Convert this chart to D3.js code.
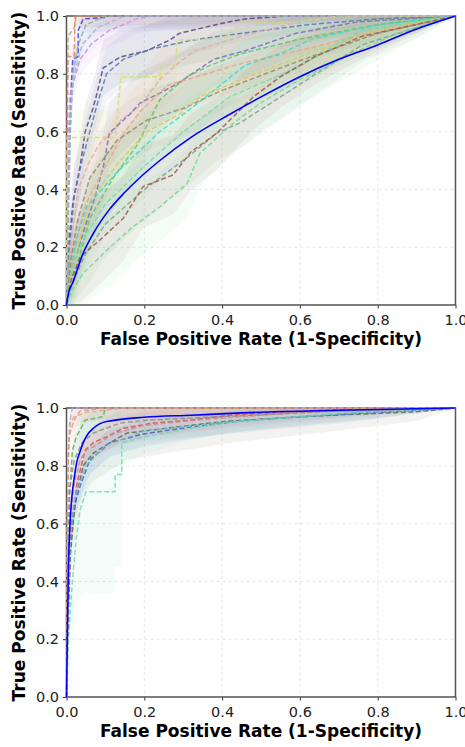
<!DOCTYPE html>
<meta charset="utf-8">
<style>
body { margin: 0; background: #fff; }
.tick text { font-family: "DejaVu Sans", sans-serif; font-size: 14.5px; fill: #222; }
.tick line { stroke: #333; stroke-width: 1; }
.axis-label { font: bold 17px "DejaVu Sans", sans-serif; fill: #000; }
.grid line { stroke: #dedede; stroke-dasharray: 3,3; stroke-width: 0.8; }
</style>
<body>
<script src="https://d3js.org/d3.v7.min.js"></script>
<script>

// tick values, shared by both panels
var ticks = [0, 0.2, 0.4, 0.6, 0.8, 1.0];

// ---- top panel: per-fold ROC curves, [fpr, tpr] ----
var topMean = [[0,0],[0.005,0.04],[0.017,0.08],[0.04,0.17],[0.07,0.25],[0.11,0.33],[0.15,0.39],[0.18,0.43],[0.24,0.5],[0.32,0.58],[0.42,0.66],[0.5,0.72],[0.6,0.79],[0.7,0.85],[0.8,0.9],[0.9,0.955],[1,1]];
var topBlue = [[0,0],[0.004,0.35],[0.008,0.6],[0.012,0.75],[0.016,0.85],[0.03,0.86],[0.03,0.95],[0.043,0.99],[0.1,0.995],[0.1,1],[1,1]];
var topViolet = [[0,0],[0.003,0.4],[0.006,0.6],[0.009,0.73],[0.035,0.85],[0.065,0.905],[0.11,0.95],[0.145,0.97],[0.18,0.99],[0.22,1],[1,1]];
var topPurple = [[0,0],[0.005,0.2],[0.017,0.36],[0.035,0.48],[0.048,0.6],[0.068,0.68],[0.078,0.73],[0.094,0.82],[0.138,0.858],[0.207,0.88],[0.266,0.917],[0.29,0.94],[0.4,0.975],[0.46,0.99],[0.57,1],[1,1]];
var topSteel = [[0,0],[0.008,0.2],[0.02,0.38],[0.04,0.5],[0.06,0.6],[0.08,0.7],[0.103,0.8],[0.146,0.85],[0.216,0.885],[0.318,0.915],[0.377,0.927],[0.505,0.95],[0.62,0.97],[0.8,0.99],[1,1]];
var topTan = [[0,0],[0.002,0.5],[0.004,0.93],[0.02,0.96],[0.025,1],[1,1]];
var topCoral = [[0,0],[0.001,0.5],[0.003,0.86],[0.02,0.86],[0.022,1],[1,1]];
var topCadet = [[0,0],[0.005,0.3],[0.01,0.6],[0.017,0.81],[0.03,0.9],[0.05,0.97],[0.1,1],[1,1]];
var topPink = [[0,0],[0.01,0.2],[0.03,0.4],[0.06,0.5],[0.086,0.56],[0.12,0.6],[0.14,0.64],[0.19,0.69],[0.24,0.78],[0.29,0.84],[0.33,0.88],[0.45,0.93],[0.6,0.98],[0.75,1],[1,1]];
var topLime = [[0,0],[0.002,0.58],[0.125,0.58],[0.14,0.79],[0.24,0.79],[0.245,0.83],[0.28,0.83],[0.285,0.917],[0.4,0.92],[0.45,0.975],[0.6,0.98],[0.7,1],[1,1]];
var topSlate = [[0,0],[0.02,0.15],[0.05,0.28],[0.07,0.36],[0.095,0.48],[0.11,0.595],[0.163,0.66],[0.19,0.7],[0.25,0.74],[0.29,0.77],[0.378,0.85],[0.46,0.88],[0.59,0.94],[0.75,0.98],[1,1]];
var topGreen = [[0,0],[0.02,0.1],[0.06,0.3],[0.12,0.44],[0.18,0.55],[0.24,0.71],[0.31,0.79],[0.37,0.83],[0.45,0.87],[0.6,0.92],[0.8,0.97],[1,1]];
var topSalmon = [[0,0],[0.02,0.2],[0.05,0.35],[0.1,0.48],[0.15,0.6],[0.19,0.67],[0.26,0.76],[0.36,0.8],[0.46,0.84],[0.63,0.89],[0.8,0.95],[1,1]];
var topTurq = [[0,0],[0.01,0.12],[0.03,0.25],[0.052,0.34],[0.13,0.46],[0.24,0.6],[0.32,0.68],[0.395,0.76],[0.46,0.83],[0.55,0.87],[0.63,0.92],[0.8,0.97],[1,1]];
var topOlive = [[0,0],[0.01,0.15],[0.03,0.3],[0.06,0.44],[0.13,0.57],[0.207,0.64],[0.3,0.68],[0.395,0.74],[0.55,0.82],[0.63,0.86],[0.8,0.94],[1,1]];
var topGold = [[0,0],[0.02,0.15],[0.06,0.36],[0.138,0.5],[0.207,0.6],[0.29,0.66],[0.343,0.72],[0.45,0.78],[0.6,0.86],[0.8,0.95],[1,1]];
var topSea = [[0,0],[0.01,0.06],[0.05,0.18],[0.1,0.28],[0.2,0.4],[0.31,0.51],[0.387,0.595],[0.446,0.63],[0.55,0.72],[0.63,0.79],[0.76,0.9],[0.9,0.96],[1,1]];
var topAqua = [[0,0],[0.01,0.1],[0.04,0.22],[0.1,0.35],[0.2,0.48],[0.3,0.6],[0.42,0.72],[0.59,0.82],[0.76,0.95],[0.9,0.98],[1,1]];
var topBrown = [[0,0],[0.01,0.08],[0.035,0.166],[0.086,0.225],[0.146,0.3],[0.197,0.41],[0.274,0.45],[0.32,0.53],[0.387,0.595],[0.42,0.64],[0.48,0.72],[0.55,0.79],[0.64,0.86],[0.76,0.93],[1,1]];
var topMint = [[0,0],[0.014,0.05],[0.043,0.11],[0.112,0.2],[0.17,0.27],[0.24,0.34],[0.31,0.42],[0.343,0.525],[0.38,0.57],[0.42,0.62],[0.5,0.7],[0.6,0.78],[0.75,0.88],[0.85,0.94],[1,1]];
var topLight = [[0,0],[0.003,0.3],[0.008,0.55],[0.012,0.7],[0.02,0.8],[0.04,0.9],[0.08,0.96],[0.15,1],[1,1]];

var topFolds = [topBlue, topViolet, topPurple, topSteel, topTan, topCoral, topCadet, topPink, topLime, topSlate,
	topGreen, topSalmon, topTurq, topOlive, topGold, topSea, topAqua, topBrown, topMint, topLight];
// spread (std of tpr) per fold
var topStd = [0.05, 0.06, 0.1, 0.1, 0.04, 0.04, 0.06, 0.12, 0.1, 0.12, 0.12, 0.12, 0.12, 0.12, 0.1, 0.12, 0.12, 0.16, 0.14, 0.06];
var topColors = ["#3b3bdc", "#cf8fea", "#55467a", "#5878b0", "#b5a285", "#e5806a", "#88aea6", "#e8a8a8", "#cde06e", "#7870b4",
	"#5cc85c", "#f0a282", "#3ed8d0", "#9a8a66", "#e2c262", "#7fa08e", "#6ee0a6", "#a4524c", "#72d892", "#a4b4d4"];

// ---- bottom panel ----
var botMean = [[0,0],[0.002,0.2],[0.005,0.45],[0.009,0.6],[0.013,0.68],[0.02,0.76],[0.026,0.81],[0.035,0.85],[0.043,0.88],[0.055,0.91],[0.069,0.93],[0.085,0.945],[0.103,0.953],[0.2,0.968],[0.32,0.975],[0.45,0.983],[0.7,0.992],[1,1]];
var botGreen = [[0,0],[0.003,0.4],[0.008,0.7],[0.015,0.85],[0.025,0.9],[0.035,0.924],[0.048,0.958],[0.094,0.97],[0.1,1],[1,1]];
var botRed = [[0,0],[0.005,0.3],[0.01,0.5],[0.02,0.65],[0.027,0.74],[0.048,0.855],[0.069,0.88],[0.103,0.9],[0.146,0.93],[0.224,0.948],[0.318,0.958],[0.42,0.975],[0.55,0.985],[0.7,0.995],[1,1]];
var botOlive = [[0,0],[0.004,0.3],[0.01,0.5],[0.018,0.62],[0.027,0.705],[0.043,0.8],[0.069,0.844],[0.112,0.88],[0.155,0.913],[0.318,0.94],[0.42,0.955],[0.68,0.975],[0.9,0.987],[1,1]];
var botBlue = [[0,0],[0.004,0.3],[0.008,0.5],[0.013,0.6],[0.02,0.66],[0.035,0.73],[0.06,0.82],[0.112,0.88],[0.197,0.91],[0.318,0.934],[0.446,0.955],[0.6,0.97],[0.8,0.985],[1,1]];
var botAqua = [[0,0],[0.005,0.2],[0.015,0.4],[0.025,0.55],[0.035,0.647],[0.05,0.71],[0.125,0.71],[0.125,0.77],[0.142,0.77],[0.142,0.88],[0.2,0.9],[0.318,0.93],[0.45,0.955],[0.7,0.98],[1,1]];
var botTeal = [[0,0],[0.004,0.35],[0.01,0.55],[0.02,0.68],[0.05,0.8],[0.1,0.87],[0.2,0.92],[0.4,0.95],[0.6,0.97],[0.8,0.99],[1,1]];
var botPink = [[0,0],[0.004,0.4],[0.01,0.62],[0.02,0.74],[0.035,0.82],[0.052,0.855],[0.069,0.865],[0.12,0.91],[0.2,0.94],[0.35,0.96],[0.6,0.985],[1,1]];
var botGray = [[0,0],[0.003,0.5],[0.008,0.72],[0.02,0.82],[0.04,0.88],[0.069,0.913],[0.138,0.948],[0.207,0.958],[0.4,0.97],[0.7,0.99],[1,1]];
var botTan = [[0,0],[0.002,0.6],[0.005,0.85],[0.01,0.95],[0.02,0.97],[0.05,0.985],[0.15,1],[1,1]];
var botLavender = [[0,0],[0.002,0.5],[0.004,0.8],[0.008,0.95],[0.015,1],[1,1]];
var botSalmon = [[0,0],[0.003,0.7],[0.006,0.9],[0.02,0.96],[0.035,0.99],[0.1,1],[1,1]];

var botFolds = [botGreen, botRed, botOlive, botBlue, botAqua, botTeal, botPink, botGray, botTan, botLavender, botSalmon];
// the aquamarine fold has a per-point spread, one value per point of botAqua
var botAquaStd = [0, 0.15, 0.2, 0.22, 0.3, 0.35, 0.35, 0.32, 0.32, 0.08, 0.06, 0.04, 0.03, 0.02, 0];
var botStd = [0.05, 0.05, 0.1, 0.05, botAquaStd, 0.05, 0.05, 0.08, 0.04, 0.05, 0.04];
var botColors = ["#58b058", "#e04a4a", "#5e6a50", "#4656d0", "#6cdcae", "#68c4c8", "#d08a9a", "#8c8c8c", "#d8b07c", "#b6a6e0", "#ee9274"];

// layout
var margin = {left: 66.5},
	width = 389,
	height = 289,
	panelTops = [16, 408];

var svg = d3.select("body").append("svg")
	.attr("width", 465)
	.attr("height", 747);

function drawPanel(idx, top, folds, stds, colors, mean) {
	var x = d3.scaleLinear().domain([0, 1]).range([0, width]);
	var y = d3.scaleLinear().domain([0, 1]).range([height, 0]);

	var g = svg.append("g")
		.attr("transform", "translate(" + margin.left + "," + top + ")");

	g.append("clipPath").attr("id", "clip" + idx)
		.append("rect").attr("x", -1).attr("y", -1)
		.attr("width", width + 2).attr("height", height + 2);

	// grid
	var grid = g.append("g").attr("class", "grid");
	grid.selectAll(".gx").data(ticks).enter().append("line")
		.attr("x1", d => x(d)).attr("x2", d => x(d))
		.attr("y1", 0).attr("y2", height);
	grid.selectAll(".gy").data(ticks).enter().append("line")
		.attr("y1", d => y(d)).attr("y2", d => y(d))
		.attr("x1", 0).attr("x2", width);

	// axes
	g.append("g")
		.attr("transform", "translate(0," + height + ")")
		.call(d3.axisBottom(x).tickValues(ticks).tickFormat(d3.format(".1f")).tickSize(3.5).tickPadding(6.5))
		.call(a => a.select(".domain").remove());
	g.append("g")
		.call(d3.axisLeft(y).tickValues(ticks).tickFormat(d3.format(".1f")).tickSize(3.5).tickPadding(4))
		.call(a => a.select(".domain").remove());

	// spines
	g.append("rect")
		.attr("width", width).attr("height", height)
		.attr("fill", "none").attr("stroke", "#555").attr("stroke-width", 1.5);

	var plot = g.append("g").attr("clip-path", "url(#clip" + idx + ")");

	// std bands
	var band = function(s) {
		var sd = (d, j) => (Array.isArray(s) ? s[j] : s * Math.sqrt(1 - d[0]));
		return d3.area()
			.x(d => x(d[0]))
			.y0((d, j) => y(Math.max(0, d[1] - sd(d, j))))
			.y1((d, j) => y(Math.min(1, d[1] + sd(d, j))));
	};
	folds.forEach(function(f, i) {
		plot.append("path")
			.attr("d", band(stds[i])(f))
			.attr("fill", colors[i])
			.attr("fill-opacity", 0.08);
	});

	var line = d3.line().x(d => x(d[0])).y(d => y(d[1]));
	folds.forEach(function(f, i) {
		plot.append("path")
			.attr("d", line(f))
			.attr("fill", "none")
			.attr("stroke", colors[i])
			.attr("stroke-width", 1.5)
			.attr("stroke-dasharray", "5,2.5")
			.attr("stroke-opacity", 0.85);
	});

	// mean ROC
	plot.append("path")
		.attr("d", line.curve(d3.curveMonotoneX)(mean))
		.attr("fill", "none")
		.attr("stroke", "#0000ff")
		.attr("stroke-width", 1.6);

	// labels
	g.append("text").attr("class", "axis-label")
		.attr("x", width / 2).attr("y", height + 40)
		.attr("text-anchor", "middle")
		.text("False Positive Rate (1-Specificity)");
	g.append("text").attr("class", "axis-label")
		.attr("transform", "translate(" + (-41.5) + "," + (height / 2) + ") rotate(-90)")
		.attr("text-anchor", "middle")
		.text("True Positive Rate (Sensitivity)");
}

drawPanel(0, panelTops[0], topFolds, topStd, topColors, topMean);
drawPanel(1, panelTops[1], botFolds, botStd, botColors, botMean);

</script>
</body>
